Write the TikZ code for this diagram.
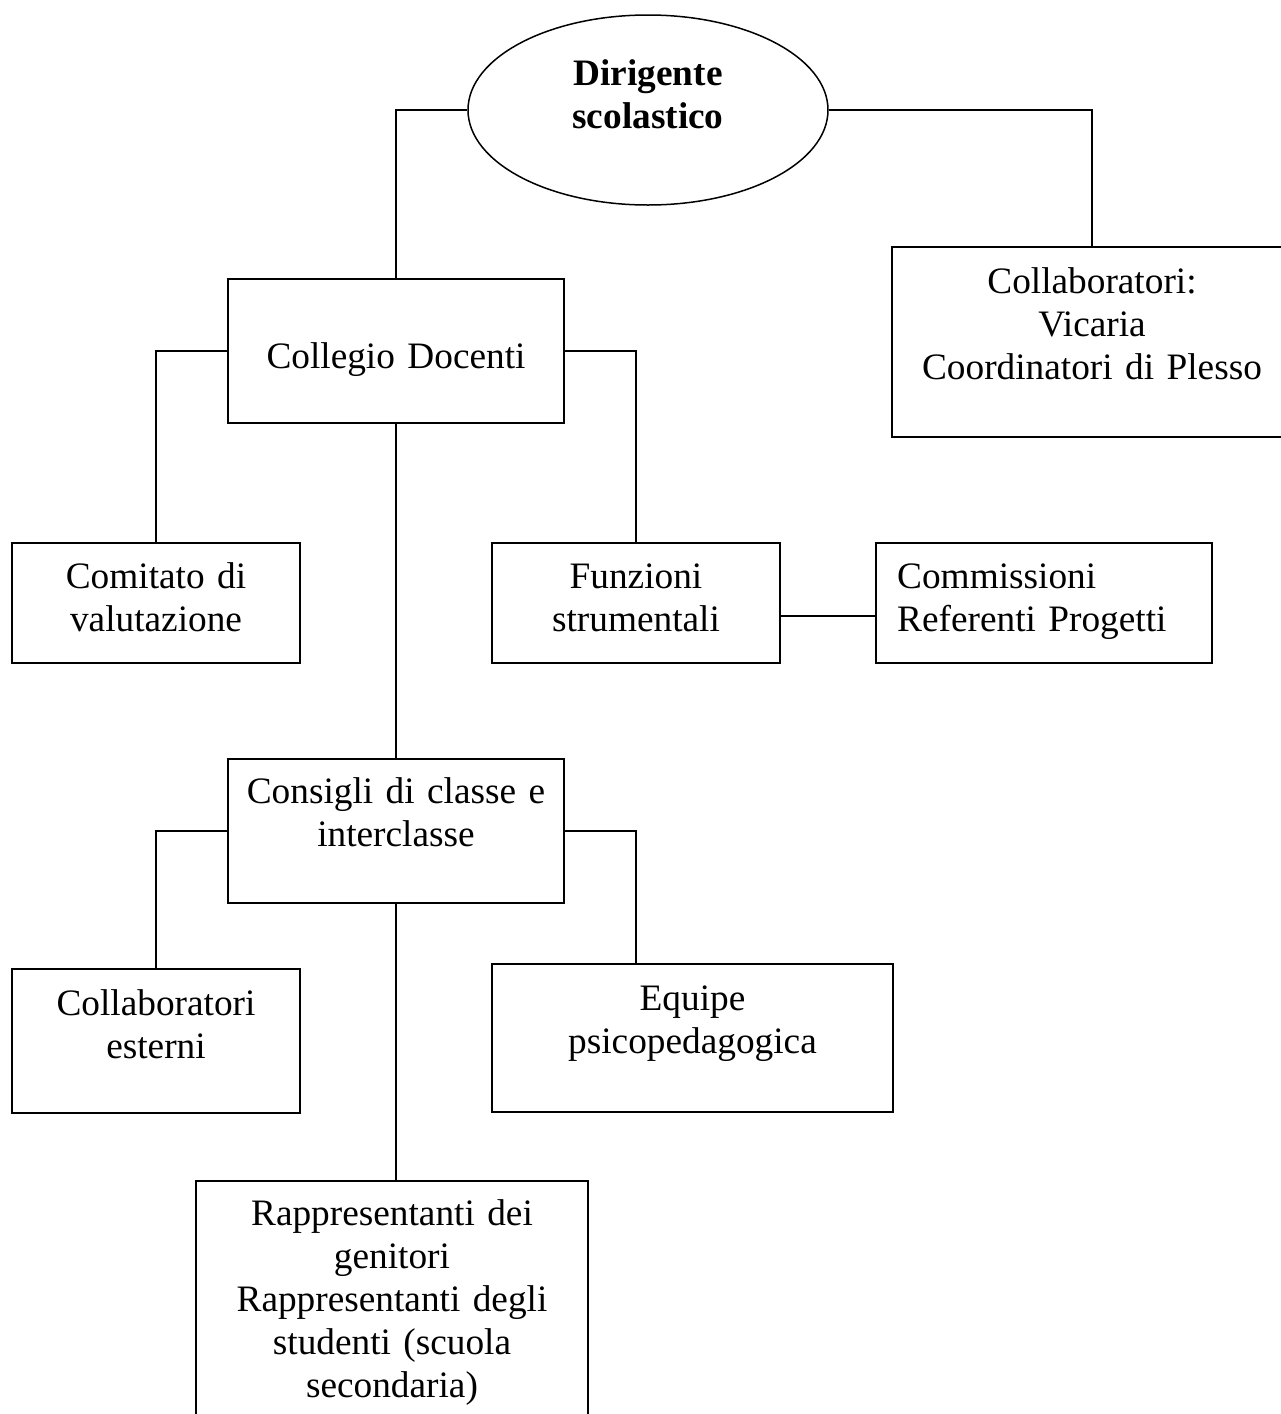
\documentclass[tikz,border=0pt]{standalone}
\usepackage{fontspec}
\setmainfont{Liberation Serif}
\usetikzlibrary{shapes.geometric,calc}
\tikzset{
  conn/.style={line width=1.5pt, line join=miter},
  box/.style={draw, line width=1.5pt, rectangle, inner sep=0pt},
  oval/.style={draw, line width=1.5pt, ellipse, inner sep=0pt, minimum width=360pt, minimum height=190pt},
  txt/.style={inner sep=0pt, anchor=base, text width=420pt, align=center,
    font=\fontsize{37.3pt}{43pt}\selectfont},
  txtl/.style={inner sep=0pt, anchor=base west, text width=330pt, align=left,
    font=\fontsize{37.3pt}{43pt}\selectfont},
}
\begin{document}
\begin{tikzpicture}[x=1pt, y=1pt]
\fill[white] (0,0) rectangle (1281,-1414);
\useasboundingbox (0,0) rectangle (1281,-1414);

% boxes
\node[oval] (dir) at (648,-110) {};
\node[box, minimum width=400pt, minimum height=190pt] (collab) at (1092,-342) {};
\node[box, minimum width=336pt, minimum height=144pt] (collegio) at (396,-351) {};
\node[box, minimum width=288pt, minimum height=120pt] (comitato) at (156,-603) {};
\node[box, minimum width=288pt, minimum height=120pt] (funzioni) at (636,-603) {};
\node[box, minimum width=336pt, minimum height=120pt] (commissioni) at (1044,-603) {};
\node[box, minimum width=336pt, minimum height=144pt] (consigli) at (396,-831) {};
\node[box, minimum width=288pt, minimum height=144pt] (collabest) at (156,-1041) {};
\node[box, minimum width=401pt, minimum height=148pt] (equipe) at (692.5,-1038) {};
\node[box, minimum width=392pt, minimum height=249pt] (rapp) at (392,-1305.5) {};

% texts
\node[txt] (dir-t) at (648,-85) {\bfseries Dirigente\\scolastico};
\node[txt] (collab-t) at (1092,-293) {Collaboratori:\\Vicaria\\Coordinatori di Plesso};
\node[txt] (collegio-t) at (396,-368) {Collegio Docenti};
\node[txt] (comitato-t) at (156,-588) {Comitato di\\valutazione};
\node[txt] (funzioni-t) at (636,-588) {Funzioni\\strumentali};
\node[txtl] (commissioni-t) at (897,-588) {Commissioni\\Referenti Progetti};
\node[txt] (consigli-t) at (396,-803) {Consigli di classe e\\interclasse};
\node[txt] (collabest-t) at (156,-1015) {Collaboratori\\esterni};
\node[txt] (equipe-t) at (692.5,-1010) {Equipe\\psicopedagogica};
\node[txt] (rapp-t) at (392,-1225) {Rappresentanti dei\\genitori\\Rappresentanti degli\\studenti (scuola\\secondaria)};

% connectors
\draw[conn] (dir.west) -| (collegio.north);
\draw[conn] (dir.east) -| (collab.north);
\draw[conn] (collegio.west) -| (comitato.north);
\draw[conn] (collegio.east) -| (funzioni.north);
\draw[conn] (collegio.south) -- (consigli.north);
\draw[conn] ([yshift=-13pt]funzioni.east) -- ([yshift=-13pt]commissioni.west);
\draw[conn] (consigli.west) -| (collabest.north);
\draw[conn] (consigli.east) -| ([xshift=-56.5pt]equipe.north);
\draw[conn] (consigli.south) -- (consigli.south |- rapp.north);
\end{tikzpicture}
\end{document}
